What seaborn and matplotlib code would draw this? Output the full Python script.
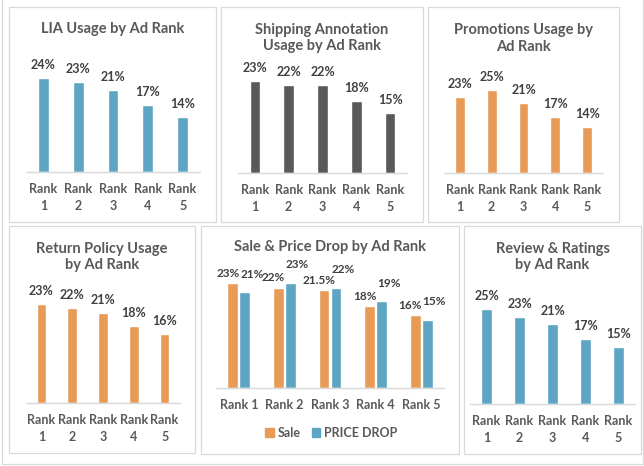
import matplotlib
matplotlib.use("Agg")
import matplotlib.pyplot as plt
from matplotlib.patches import Rectangle
from matplotlib.lines import Line2D
import seaborn as sns
import pandas as pd

# ---------------- data ----------------
ranks = ["Rank 1", "Rank 2", "Rank 3", "Rank 4", "Rank 5"]
lia_usage = [24, 23, 21, 17, 14]
shipping_usage = [23, 22, 22, 18, 15]
promotions_usage = [23, 25, 21, 17, 14]
return_policy_usage = [23, 22, 21, 18, 16]
sale_usage = [23, 22, 21.5, 18, 16]
price_drop_usage = [21, 23, 22, 19, 15]
review_usage = [25, 23, 21, 17, 15]
series_names = ["Sale", "PRICE DROP"]

titles = [
    "LIA Usage by Ad Rank",
    "Shipping Annotation\nUsage by Ad Rank",
    "Promotions Usage by\nAd Rank",
    "Return Policy Usage\nby Ad Rank",
    "Sale & Price Drop by Ad Rank",
    "Review & Ratings\nby Ad Rank",
]

BLUE = "#5DA5C3"
GRAY = "#595959"
ORANGE = "#E79B56"
TXT = "#595959"
VAL = "#404040"
BORDER = "#D9D9D9"

sns.set_theme(style="white")
plt.rcParams["font.family"] = ["Lato", "DejaVu Sans"]

W, H = 644, 466
fig = plt.figure(figsize=(W / 100, H / 100), dpi=100)
fig.patch.set_facecolor("white")


def fx(px):
    return px / W


def fy(py):
    return 1 - py / H


def box(x0, y0, x1, y1):
    fig.patches.append(Rectangle((fx(x0), fy(y1)), fx(x1 - x0), (y1 - y0) / H,
                                 transform=fig.transFigure, fill=False,
                                 edgecolor=BORDER, linewidth=0.9, zorder=0))


# outer frame
fig.lines.append(Line2D([fx(1.5), fx(1.5)], [fy(463.5), 1.0], transform=fig.transFigure,
                        color=BORDER, lw=0.9))
fig.lines.append(Line2D([fx(1.5), fx(642.5)], [fy(463.5), fy(463.5)], transform=fig.transFigure,
                        color=BORDER, lw=0.9))
fig.lines.append(Line2D([fx(642.5), fx(642.5)], [fy(463.5), 1.0], transform=fig.transFigure,
                        color=BORDER, lw=0.9))

# panel layout: box, axis x-range, baseline, top pixel of tallest bar, title centre y
panels = [
    dict(box=(9, 7, 216, 222), ax=(26, 200), base=172, top=78, ty=29),
    dict(box=(221, 7, 423, 222), ax=(238, 407), base=173, top=81, ty=38),
    dict(box=(428, 7, 619, 222), ax=(444, 603), base=173, top=90, ty=38.5),
    dict(box=(9, 226, 195, 453), ax=(26, 180), base=403, top=304, ty=257),
    dict(box=(201, 226, 459, 454), ax=(216, 444), base=388, top=283, ty=247),
    dict(box=(464, 226, 641, 454), ax=(470, 635), base=404, top=309, ty=257),
]

single = [
    (lia_usage, BLUE),
    (shipping_usage, GRAY),
    (promotions_usage, ORANGE),
    (return_policy_usage, ORANGE),
    None,
    (review_usage, BLUE),
]


def style_axis(ax, labels):
    for s in ["left", "right", "top"]:
        ax.spines[s].set_visible(False)
    ax.spines["bottom"].set_color(BORDER)
    ax.spines["bottom"].set_linewidth(1.0)
    ax.set_yticks([])
    ax.set_xlabel("")
    ax.set_ylabel("")
    ax.set_xticks(range(len(labels)))
    ax.set_xticklabels(labels, fontsize=9, fontweight="bold", color=TXT, linespacing=1.5)
    ax.tick_params(axis="x", length=0, pad=8)
    ax.set_facecolor("none")


for i, p in enumerate(panels):
    box(*p["box"])
    x0, x1 = p["ax"]
    ax = fig.add_axes([fx(x0), fy(p["base"]), fx(x1 - x0), (p["base"] - p["top"]) / H])
    cx = (p["box"][0] + p["box"][2]) / 2
    fig.text(fx(cx), fy(p["ty"]), titles[i], ha="center", va="center", fontsize=10.5,
             fontweight="bold", color=TXT, linespacing=1.2)
    if single[i] is not None:
        vals, col = single[i]
        df = pd.DataFrame({"rank": ranks, "value": vals})
        sns.barplot(data=df, x="rank", y="value", color=col, width=0.31,
                    saturation=1, ax=ax)
        ax.set_ylim(0, max(vals))
        for c in ax.containers:
            ax.bar_label(c, labels=[f"{v:g}%" for v in vals], padding=5, fontsize=9,
                         fontweight="bold", color=VAL, clip_on=False)
        style_axis(ax, [r.replace(" ", "\n") for r in ranks])
    else:
        df = pd.DataFrame({
            "rank": ranks * 2,
            "value": sale_usage + price_drop_usage,
            "series": [series_names[0]] * 5 + [series_names[1]] * 5,
        })
        sns.barplot(data=df, x="rank", y="value", hue="series",
                    palette=[ORANGE, BLUE], width=0.53, gap=0.1, saturation=1, ax=ax)
        ax.set_ylim(0, max(max(sale_usage), max(price_drop_usage)))
        for c, vals, dx, dy in zip(ax.containers, [sale_usage, price_drop_usage],
                                   [-3.5, 5.0], [3, 9]):
            anns = ax.bar_label(c, labels=[f"{v:g}%" for v in vals], padding=dy,
                                fontsize=8.5, fontweight="bold", color=VAL, clip_on=False)
            for a in anns:
                a.xyann = (dx, a.xyann[1])
        style_axis(ax, ranks)
        ax.legend_.remove()
        handles = [Rectangle((0, 0), 1, 1, color=ORANGE), Rectangle((0, 0), 1, 1, color=BLUE)]
        leg = fig.legend(handles, series_names, loc="center", bbox_to_anchor=(fx(331), fy(433)),
                         ncol=2, frameon=False, handlelength=0.7, handleheight=0.7,
                         handletextpad=0.3, columnspacing=0.9,
                         prop={"size": 9, "weight": "bold"})
        for t in leg.get_texts():
            t.set_color(TXT)

fig.savefig("out.png", dpi=100, facecolor="white")
